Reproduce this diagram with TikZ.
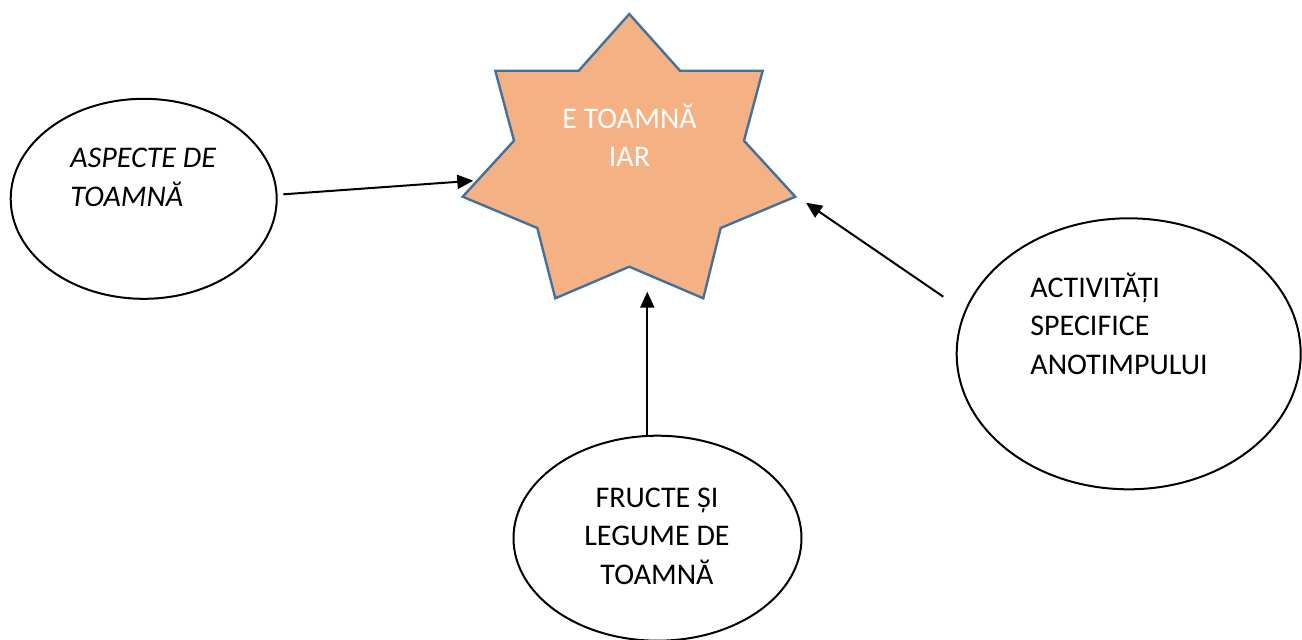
\documentclass[tikz,border=0pt]{standalone}
\usepackage{fontspec}
\setmainfont{Carlito}
\usetikzlibrary{shapes.geometric,arrows.meta}
\tikzset {>={Triangle[length=8pt,width=7pt]}}
\definecolor{starfill}{HTML}{F4B183}
\definecolor{starline}{HTML}{41719C}

\begin{document}
\begin{tikzpicture}[x=.5pt,y=-.5pt,
  bubble/.style={draw,ellipse,line width=1pt,inner sep=0pt},
  label/.style={font=\fontsize{15pt}{19.2pt}\selectfont,inner sep=0pt}]
\useasboundingbox (0,0) rectangle (1302,639);
% star
\draw[fill=starfill,draw=starline,line width=1.2pt,line join=miter]
  (629.3,14) -- (680,70.7) -- (762.7,70.7) -- (744,140.7) -- (795.3,196.7)
  -- (720.7,228) -- (703.3,298.3) -- (629.3,266.7) -- (555.3,298.3)
  -- (537.3,228) -- (462.7,196.7) -- (514,140.7) -- (495.3,70.7)
  -- (578.7,70.7) -- cycle;
\node[label,text=white,align=center,anchor=base] (star) at (629.5,166.7) {E TOAMNĂ\\IAR};
% ellipses
\node[bubble,minimum width=133pt,minimum height=100pt] (aspect) at (143.7,198.8) {};
\node[bubble,minimum width=144pt,minimum height=102.5pt] (fruct) at (657.5,538.2) {};
\node[bubble,minimum width=172pt,minimum height=135.5pt] (activ) at (1128.7,353.8) {};
\node[label,font=\fontsize{15pt}{19.2pt}\selectfont\itshape,align=left,anchor=base west] (aspectTxt) at (70,206) {ASPECTE DE\\TOAMNĂ};
\node[label,align=center,anchor=base] (fructTxt) at (657,584) {FRUCTE ȘI\\LEGUME DE\\TOAMNĂ};
\node[label,align=left,anchor=base west] (activTxt) at (1030,374) {ACTIVITĂȚI\\SPECIFICE\\ANOTIMPULUI};
% arrow ends
\coordinate (aspectOut) at (283.3,194.3);
\coordinate (starW) at (473.3,180.7);
\coordinate (fructOut) at (647.3,435.7);
\coordinate (starS) at (647.3,291.7);
\coordinate (activOut) at (943.3,296.7);
\coordinate (starE) at (806,202.7);
\draw[->,line width=1pt] (aspectOut) -- (starW);
\draw[->,line width=1pt] (fructOut) -- (starS);
\draw[->,line width=1pt] (activOut) -- (starE);
\end{tikzpicture}
\end{document}
